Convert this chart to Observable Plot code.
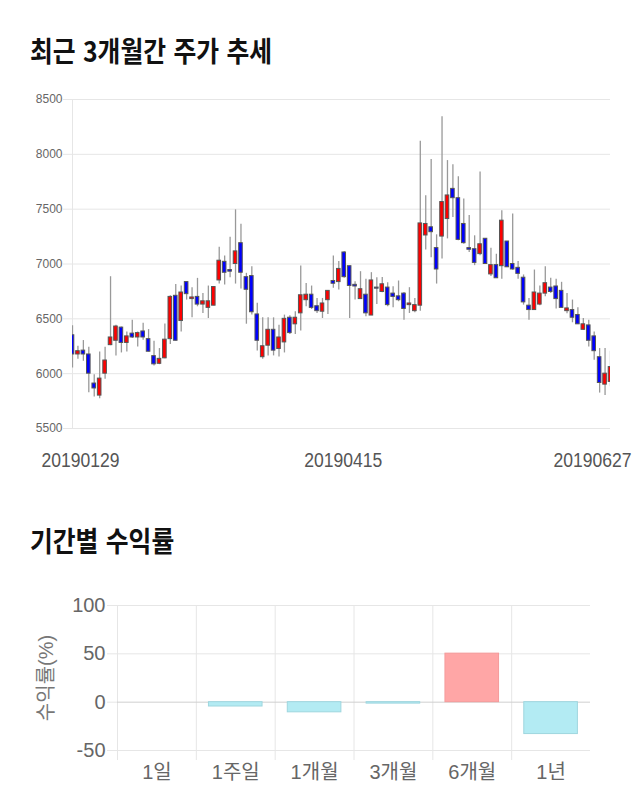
<!DOCTYPE html>
<html><head><meta charset="utf-8">
<script src="https://cdn.jsdelivr.net/npm/d3@7"></script>
<script src="https://cdn.jsdelivr.net/npm/@observablehq/plot@0.6"></script>
<style>
html,body{margin:0;padding:0;background:#fff}
body{width:640px;height:810px;overflow:hidden;position:relative;font-family:"Noto Sans CJK KR",sans-serif}
.title{position:absolute;left:30px;font-weight:bold;font-size:28.5px;color:#111;transform:scaleX(0.87);transform-origin:left top;word-spacing:2px;white-space:nowrap;line-height:1}
#c1{position:absolute;left:0;top:80px}
#c2{position:absolute;left:0;top:580px}
</style></head><body>
<div class="title" style="top:36px">최근 3개월간 주가 추세</div>
<div id="c1"></div>
<div class="title" style="top:526px">기간별 수익률</div>
<div id="c2"></div>
<script>
// ---- candle data (daily OHLC, 20190129 .. 20190627) ----
const open  = [6350,6175,6210,6175,5910,5800,6000,6260,6300,6420,6280,6365,6330,6385,6315,6160,6090,6140,6315,6710,
               6480,6835,6680,6700,6630,6600,6620,6850,7020,6945,7000,7190,6880,6890,6540,6150,6255,6400,6225,6285,
               6510,6450,6550,6670,6720,6615,6565,6670,6845,6835,7105,6980,6810,6680,6720,6530,6785,6745,6785,6730,
               6705,6730,6625,6570,6620,7260,7335,7145,7250,7410,7685,7600,7365,7145,7135,7090,7230,6905,6990,6980,
               7205,7000,6965,6875,6620,6580,6630,6730,6785,6795,6755,6570,6580,6535,6400,6440,6340,6150,5900,5925];
const high  = [6436,6250,6302,6241,5991,6198,6241,6884,6442,6425,6381,6488,6381,6460,6402,6296,6229,6454,6710,6814,
               6799,6835,6784,6869,6732,6799,6795,7153,7073,7244,7494,7363,6915,6976,6641,6509,6509,6509,6442,6534,
               6528,6564,6982,6823,6799,6686,6686,6755,7073,7022,7113,6982,6839,6930,6860,6921,6875,6878,6830,6793,
               6845,6741,6784,6686,8120,7623,7952,7266,8342,7943,7906,7796,7592,7443,7257,7840,7232,7144,7089,7485,
               7205,7455,7022,6900,6686,6945,6799,6976,6869,6860,6833,6732,6671,6601,6503,6488,6381,6229,6229,6204];
const low   = [6052,6131,6113,5826,5787,5771,5948,6255,6162,6189,6198,6320,6244,6305,6198,6070,6082,6137,6265,6299,
               6381,6671,6509,6610,6549,6503,6619,6817,6808,6875,6817,6772,6451,6534,6207,6131,6162,6162,6152,6189,
               6357,6357,6390,6610,6585,6549,6503,6540,6778,6762,6869,6503,6671,6677,6518,6530,6631,6738,6610,6601,
               6656,6488,6549,6555,6570,7128,7058,6817,7046,7229,7424,7211,7180,7104,6985,7076,7000,6885,6869,6860,
               6970,6942,6860,6625,6488,6580,6619,6701,6732,6589,6600,6546,6464,6450,6396,6244,6122,5823,5802,5880];
const close = [6175,6205,6175,6000,5865,5955,6120,6330,6430,6280,6340,6330,6370,6330,6200,6085,6135,6310,6700,6300,
               6740,6725,6695,6630,6660,6660,6790,7030,6920,6930,7115,6920,6765,6560,6300,6250,6400,6210,6330,6500,
               6370,6510,6715,6720,6600,6570,6640,6755,6820,6955,6880,6800,6795,6770,6550,6850,6775,6815,6625,6700,
               6670,6590,6640,6625,7370,7365,7290,6950,7565,7625,7600,7220,7190,7130,7010,7180,7000,6990,6870,7395,
               6970,6950,6910,6650,6580,6740,6730,6825,6745,6680,6600,6595,6510,6450,6450,6300,6205,5915,6000,6060];
const yTicks = [5500, 6000, 6500, 7000, 7500, 8000, 8500];
const xTickLabels = ["20190129", "20190415", "20190627"];
const xTickIndex  = [0, 50, 99];

// ---- period returns ----
const periods = ["1일", "1주일", "1개월", "3개월", "6개월", "1년"];
const returns = [0, -4.5, -10.5, -1.5, 50.2, -33];
const rTicks = [-50, 0, 50, 100];

const candles = open.map((o, i) => ({i, o, h: high[i], l: low[i], c: close[i]}));
const up = candles.filter(d => d.c >= d.o);
const down = candles.filter(d => d.c < d.o);
const labelOffsets = [8, -1, -18];

const chart1 = Plot.plot({
  width: 640, height: 400,
  marginTop: 19, marginBottom: 52, marginLeft: 72, marginRight: 30,
  style: {fontFamily: "'Liberation Sans', Arial, sans-serif", background: "#fff", overflow: "visible"},
  x: {domain: [0, open.length - 1], axis: null},
  y: {domain: [5500, 8500], label: null},
  marks: [
    Plot.gridY(yTicks, {stroke: "#e6e6e6", strokeOpacity: 1}),
    Plot.axisY(yTicks, {tickSize: 9, tickPadding: 1, stroke: "#e6e6e6", fill: "#666", fontSize: 12, label: null, tickFormat: d => String(d)}),
    Plot.ruleX([0], {stroke: "#e6e6e6"}),
    Plot.ruleX(candles, {x: "i", y1: "l", y2: "h", stroke: "#999", strokeWidth: 1.3, clip: true}),
    Plot.rect(up, {x1: d => d.i - 0.33, x2: d => d.i + 0.33, y1: "o", y2: "c", fill: "#ff0000", stroke: "#555", strokeWidth: 1, clip: true}),
    Plot.rect(down, {x1: d => d.i - 0.33, x2: d => d.i + 0.33, y1: "o", y2: "c", fill: "#0000ff", stroke: "#555", strokeWidth: 1, clip: true}),
    ...xTickLabels.map((t, k) => Plot.text([t], {
      x: () => xTickIndex[k], text: d => d, frameAnchor: "bottom", dy: 38, dx: labelOffsets[k],
      fill: "#555", fontSize: 20
    }))
  ]
});
chart1.querySelectorAll("text").forEach(t => {
  if (xTickLabels.includes(t.textContent.trim())) {
    t.setAttribute("textLength", "78");
    t.setAttribute("lengthAdjust", "spacingAndGlyphs");
  }
});
document.getElementById("c1").appendChild(chart1);

const rdata = returns.map((v, i) => ({i, v, p: periods[i]}));
const chart2 = Plot.plot({
  width: 640, height: 200,
  marginTop: 25, marginBottom: 30, marginLeft: 117, marginRight: 50,
  style: {fontFamily: "'Liberation Sans', 'Noto Sans CJK KR', sans-serif", background: "#fff", overflow: "visible"},
  x: {domain: [0, periods.length], axis: null, label: null},
  y: {domain: [-50, 100], label: null},
  marks: [
    Plot.gridY([-50, 50, 100], {stroke: "#e6e6e6", strokeOpacity: 1}),
    Plot.gridX(d3.range(periods.length), {stroke: "#e6e6e6", strokeOpacity: 1}),
    Plot.axisX(d3.range(periods.length), {tickSize: 10, stroke: "#e6e6e6", label: null, tickFormat: () => ""}),
    Plot.axisY(rTicks, {tickSize: 10, tickPadding: 2, stroke: "#e6e6e6", fill: "#666", fontSize: 20, label: null, tickFormat: d => String(d)}),
    Plot.ruleY([0], {stroke: "#cfcfcf"}),
    Plot.rect(rdata.filter(d => d.v > 0), {x1: d => d.i + 0.16, x2: d => d.i + 0.84, y1: 0, y2: "v", fill: "#ffa6a6", stroke: "#f59a9a", strokeWidth: 1}),
    Plot.rect(rdata.filter(d => d.v < 0), {x1: d => d.i + 0.16, x2: d => d.i + 0.84, y1: 0, y2: "v", fill: "#b3ebf3", stroke: "#9fd6de", strokeWidth: 1}),
    Plot.text(rdata, {x: d => d.i + 0.5, text: "p", frameAnchor: "bottom", dy: 28, fill: "#666", fontSize: 20}),
    Plot.text(["수익률(%)"], {text: d => d, frameAnchor: "left", textAnchor: "middle", rotate: -90, dx: -71, fill: "#777", fontSize: 20})
  ]
});
document.getElementById("c2").appendChild(chart2);
</script>
</body></html>
